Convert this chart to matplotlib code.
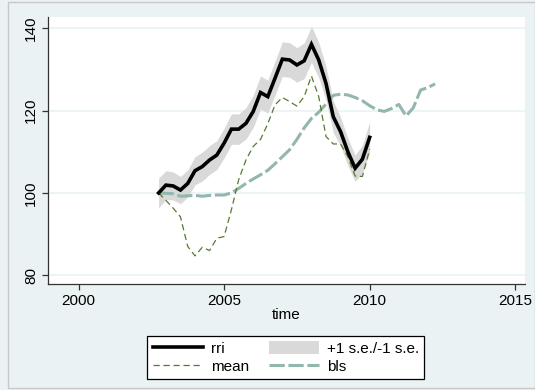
import numpy as np
import matplotlib.pyplot as plt
from matplotlib.patches import Rectangle, Patch
from matplotlib.lines import Line2D

plt.rcParams['font.family'] = ['Liberation Sans', 'DejaVu Sans']

# quarterly series, 2002q4 .. 2010q1
t_rri = 2002.75 + 0.25 * np.arange(30)
rri = [100.0, 101.9, 101.7, 100.7, 102.3, 105.4, 106.4, 108.0, 109.2, 112.1,
       115.5, 115.5, 116.9, 119.8, 124.4, 123.4, 127.9, 132.5, 132.3, 131.1,
       132.1, 136.1, 132.3, 126.6, 118.5, 114.9, 110.0, 106.0, 108.2, 113.5]
se = [3.6, 3.5, 3.4, 3.3, 3.3, 3.4, 3.5, 3.5, 3.5, 3.6,
      3.7, 3.7, 3.8, 3.9, 4.0, 4.0, 4.1, 4.2, 4.2, 4.2,
      4.3, 4.4, 4.3, 4.1, 3.8, 3.5, 3.3, 3.2, 3.4, 3.8]
mean = [100.0, 98.2, 96.3, 94.2, 87.0, 84.7, 86.8, 86.0, 89.0, 89.4,
        95.9, 103.2, 108.0, 111.3, 113.0, 116.8, 121.4, 123.2, 122.2, 121.1,
        123.4, 128.4, 123.4, 113.7, 111.9, 111.9, 108.8, 104.1, 104.0, 110.6]

# bls index, 2002q4 .. 2012q2
t_bls = 2002.75 + 0.25 * np.arange(39)
bls = [100.0, 99.9, 99.8, 99.2, 99.3, 99.4, 99.2, 99.4, 99.5, 99.5,
       100.0, 101.1, 102.3, 103.4, 104.4, 105.5, 107.1, 108.8, 110.5, 113.0,
       115.8, 118.1, 119.6, 121.6, 123.7, 124.0, 123.8, 123.2, 122.4, 121.2,
       120.2, 119.8, 120.5, 121.5, 118.7, 120.7, 125.0, 125.6, 126.5]

BG = '#eaf2f3'
BAND = '#d9d9d9'
GREEN = '#557a30'
BLS_COL = '#93b6ae'
FS = 11

rri = np.array(rri)
se = np.array(se)

fig = plt.figure(figsize=(5.35, 3.9), dpi=100, facecolor=BG)
fig.patches.append(Rectangle((7.5 / 535, 2 / 390), 1 - 7.5 / 535, 1 - 4 / 390,
                             transform=fig.transFigure, fill=False,
                             edgecolor='#c8c8c8', lw=1))
ax = fig.add_axes([0.0897, 0.271, 0.981 - 0.0897, 0.957 - 0.271])
ax.set_facecolor('white')

ax.fill_between(t_rri, rri - se, rri + se, color=BAND, lw=0, zorder=1)
ax.plot(t_rri, rri, color='black', lw=2.6, zorder=4, solid_joinstyle='miter')
ax.plot(t_rri, mean, color=GREEN, lw=0.9, dashes=(5, 3), zorder=3)
ax.plot(t_bls, bls, color=BLS_COL, lw=2.2, dashes=(5, 1.2), zorder=2)

ax.set_xlim(1998.95, 2015.33)
ax.set_ylim(77.8, 142.8)
ax.set_xticks([2000, 2005, 2010, 2015])
ax.set_yticks([80, 100, 120, 140])
ax.yaxis.grid(True, color=BG, lw=1.2)
ax.set_axisbelow(True)
for s in ['top', 'right']:
    ax.spines[s].set_visible(False)
for s in ['left', 'bottom']:
    ax.spines[s].set_color('#333333')
    ax.spines[s].set_linewidth(0.9)
ax.tick_params(length=4, width=0.9, color='#333333', labelsize=FS, pad=3)
plt.setp(ax.get_yticklabels(), rotation=90, va='center')
ax.set_xlabel('time', fontsize=FS, labelpad=0)

handles = [Line2D([], [], color='black', lw=2.6),
           Line2D([], [], color=GREEN, lw=0.9, dashes=(5, 3)),
           Patch(facecolor=BAND, edgecolor='none'),
           Line2D([], [], color=BLS_COL, lw=2.2, dashes=(5, 1.2))]
labels = ['rri', 'mean', '+1 s.e./-1 s.e.', 'bls']
leg = fig.legend(handles, labels, ncol=2, loc='center',
                 bbox_to_anchor=(0.534, 0.083), fontsize=FS,
                 frameon=True, fancybox=False, edgecolor='black',
                 facecolor='white', framealpha=1, handlelength=3.3,
                 handleheight=0.9, handletextpad=0.5, columnspacing=1.3,
                 labelspacing=0.2, borderpad=0.35)
leg.get_frame().set_linewidth(0.9)

fig.savefig('out.png', dpi=100, facecolor=BG)
